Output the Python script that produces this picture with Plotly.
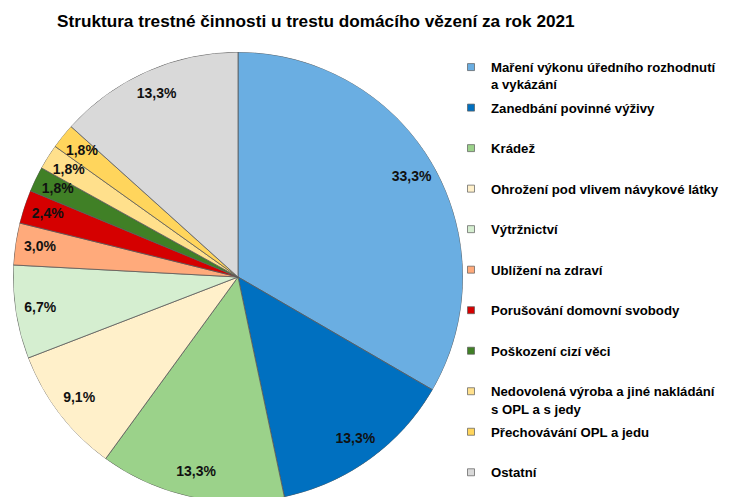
import plotly.graph_objects as go

title = "Struktura trestné činnosti u trestu domácího vězení za rok 2021"
categories = [
    "Maření výkonu úředního rozhodnutí<br>a vykázání",
    "Zanedbání povinné výživy",
    "Krádež",
    "Ohrožení pod vlivem návykové látky",
    "Výtržnictví",
    "Ublížení na zdraví",
    "Porušování domovní svobody",
    "Poškození cizí věci",
    "Nedovolená výroba a jiné nakládání<br>s OPL a s jedy",
    "Přechovávání OPL a jedu",
    "Ostatní",
]
shares = [33.3, 13.3, 13.3, 9.1, 6.7, 3.0, 2.4, 1.8, 1.8, 1.8, 13.3]
colors = ["#6AAEE2", "#0070C0", "#9BD28A", "#FFF0CA", "#D5EED0", "#FFAA7B",
          "#D50000", "#408026", "#FFE08C", "#FFD55C", "#D9D9D9"]

FONT = "Liberation Sans, Arial, sans-serif"
LABEL_R = 0.89

total = sum(shares)
widths = [v / total * 360 for v in shares]
mids = []
acc = 0.0
for w in widths:
    mids.append(acc + w / 2)
    acc += w
labels = [f"{v:.1f}".replace(".", ",") + "%" for v in shares]

fig = go.Figure()
fig.add_trace(go.Barpolar(
    r=[1] * len(shares), theta=mids, width=widths,
    marker=dict(color=colors, line=dict(color="#5A5A5A", width=0.8)),
    showlegend=False, hoverinfo="skip",
))
fig.add_trace(go.Scatterpolar(
    r=[LABEL_R] * len(shares), theta=mids, mode="text", text=labels,
    textfont=dict(family=FONT, size=14, color="#111111", weight="bold"),
    showlegend=False, hoverinfo="skip",
))
for cat, col in zip(categories, colors):
    name = cat if "<br>" in cat else cat + "<br> "
    fig.add_trace(go.Scatterpolar(
        r=[None], theta=[None], mode="markers", name=name, legendgroup=cat,
        marker=dict(symbol="square", size=7, color=col,
                    line=dict(color="#5A5A5A", width=0.7)),
    ))

W, H = 729, 497
# page body adds an 8px offset; positions below are in figure pixels
cx, cy, r = 230, 269, 225
fig.update_layout(
    width=W, height=H,
    margin=dict(l=0, r=0, t=0, b=0),
    paper_bgcolor="white",
    title=dict(text=title, x=49 / W, xanchor="left", xref="paper",
               y=1 - 13 / H, yanchor="middle", yref="container",
               font=dict(family=FONT, size=17.2, color="black", weight="bold")),
    polar=dict(
        domain=dict(x=[(cx - r) / W, (cx + r) / W],
                    y=[1 - (cy + r) / H, 1 - (cy - r) / H]),
        bgcolor="rgba(0,0,0,0)",
        hole=0,
        radialaxis=dict(visible=False, range=[0, 1]),
        angularaxis=dict(visible=False, rotation=90, direction="clockwise"),
    ),
    legend=dict(
        x=443 / W, xanchor="left", y=1 - 61 / H, yanchor="top",
        font=dict(family=FONT, size=13.2, color="black", weight="bold"),
        valign="top", tracegroupgap=3.2, bgcolor="rgba(0,0,0,0)",
    ),
    showlegend=True,
)

fig.write_html("out.html")
